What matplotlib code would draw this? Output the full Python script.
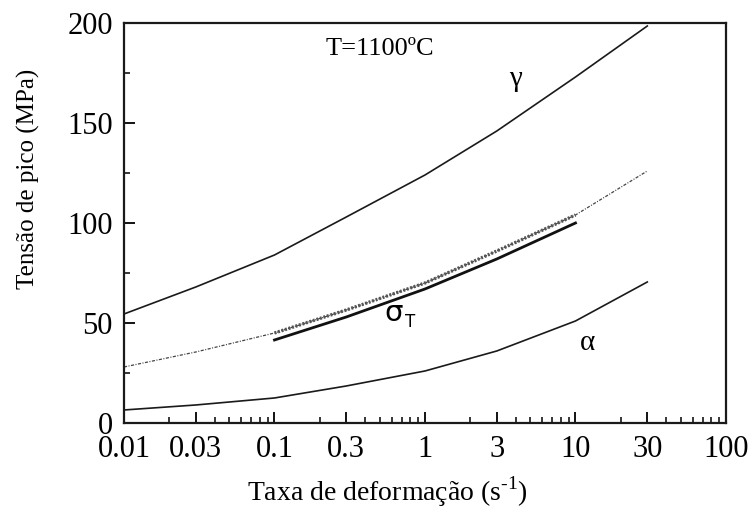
import matplotlib
matplotlib.use("Agg")
import matplotlib.pyplot as plt
import numpy as np
from matplotlib.ticker import FixedLocator, NullFormatter

plt.rcParams["font.family"] = ["Liberation Serif", "DejaVu Serif"]
plt.rcParams["mathtext.fontset"] = "custom"
plt.rcParams["mathtext.rm"] = "Liberation Serif"

# strain rate (1/s) and peak stress (MPa) read per curve
rate = [0.01, 0.03, 0.1, 0.3, 1, 3, 10, 30]
gamma_stress = [54.5, 68, 84, 103, 124, 146, 173, 198.5]
alpha_stress = [6.5, 9, 12.5, 18.5, 26, 36, 51, 70.5]
sigma_dotted = [28, 35.5, 45, 56.5, 70, 86, 104, 126]

rate_t = [0.1, 0.3, 1, 3, 10]
sigma_t = [41.5, 53, 67, 82, 100]

xticks = [0.01, 0.03, 0.1, 0.3, 1, 3, 10, 30, 100]
xtick_labels = ["0.01", "0.03", "0.1", "0.3", "1", "3", "10", "30", "100"]
yticks = [0, 50, 100, 150, 200]

fig = plt.figure(figsize=(7.52, 5.09), dpi=100)
ax = fig.add_axes([0.1649, 0.169, 0.8005, 0.7858])

ax.plot(rate, gamma_stress, color="#1a1a1a", lw=1.2)
ax.plot(rate, alpha_stress, color="#1a1a1a", lw=1.2)
ax.plot(rate, sigma_dotted, color="#444444", lw=0.9, linestyle=(0, (2.5, 1.2, 0.8, 1.2)))

# the dense dotted band of the calculated sigma between 0.1 and 10
r = np.array(rate)
m = (r >= 0.1) & (r <= 10)
ax.plot(r[m], np.array(sigma_dotted)[m], color="#555555", lw=2.4, linestyle=(0, (0.6, 0.5)))
ax.plot(rate_t, sigma_t, color="#111111", lw=2.0)

ax.set_xscale("log")
ax.set_xlim(0.01, 100)
ax.set_ylim(0, 200)

ax.xaxis.set_major_locator(FixedLocator(xticks))
ax.set_xticklabels(xtick_labels)
minor_x = [k * 10.0 ** e for e in range(-2, 2) for k in range(2, 10) if k != 3]
ax.xaxis.set_minor_locator(FixedLocator(minor_x))
ax.xaxis.set_minor_formatter(NullFormatter())
ax.yaxis.set_major_locator(FixedLocator(yticks))
ax.yaxis.set_minor_locator(FixedLocator([25, 75, 125, 175]))

ax.tick_params(which="major", direction="in", length=8, width=1.3, labelsize=22,
               top=False, right=False)
ax.tick_params(which="minor", direction="in", length=4.5, width=1.1, top=False, right=False)
ax.tick_params(axis="x", which="major", pad=9)
ax.tick_params(axis="y", which="major", pad=8)

for s in ax.spines.values():
    s.set_linewidth(1.6)
    s.set_color("#1a1a1a")

fig.text(0.5146, 0.034, r"Taxa de deformação (s$^{\text{-1}}$)", fontsize=20,
         ha="center", va="center")
fig.text(0.0372, 0.6483, "Tensão de pico (MPa)", fontsize=18, rotation=90,
         ha="center", va="center")

ax.text(0.22, 187, "T=1100ºC", fontsize=19, ha="left", va="center")
ax.text(4.0, 172, "γ", fontsize=21, ha="center", va="center")
ax.text(12, 40, "α", fontsize=21, ha="center", va="center")
ax.text(0.62, 55, "σ", fontsize=21, ha="center", va="center", family="DejaVu Sans")
ax.text(0.8, 50.5, "T", fontsize=12, ha="center", va="center", family="DejaVu Sans")

fig.savefig("out.png", dpi=100)
